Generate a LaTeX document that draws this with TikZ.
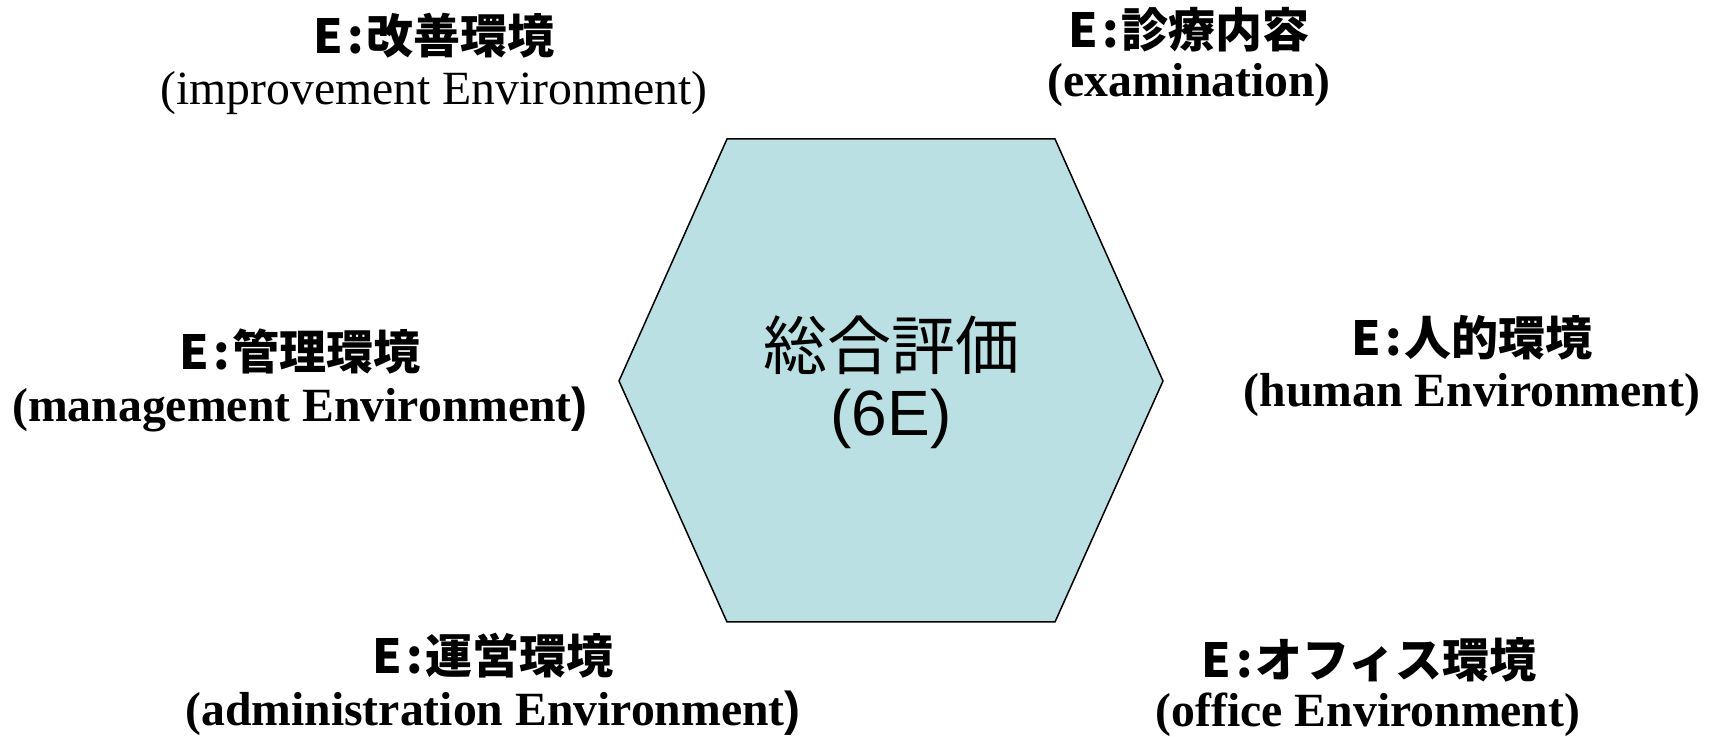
\documentclass[tikz,border=0pt]{standalone}
\usepackage{fontspec}
\setmainfont{Liberation Serif}
\newfontfamily\jp{Noto Sans CJK JP}
\newfontfamily\arialx{Liberation Sans}
\definecolor{hexfill}{RGB}{186,224,228}
\newcommand{\Ecol}{E\hspace{0.1em}:\hspace{0.05em}}
\tikzset{
  title/.style={font=\jp\bfseries\fontsize{23.5pt}{28pt}\selectfont, inner sep=0pt, anchor=center},
  subreg/.style={font=\fontsize{23.85pt}{28pt}\selectfont, inner sep=0pt, anchor=center},
  subbold/.style={font=\bfseries\fontsize{23.85pt}{28pt}\selectfont, inner sep=0pt, anchor=center},
  hex/.style={draw=black, fill=hexfill, line width=0.75pt, line join=miter},
  centertext/.style={font=\jp\fontsize{32pt}{37pt}\selectfont, inner sep=0pt, anchor=center}
}
\begin{document}
\begin{tikzpicture}[x=0.5pt,y=-0.5pt]
\useasboundingbox (0,0) rectangle (1715,737);
% hexagon
\coordinate (h1) at (727,139);
\coordinate (h2) at (1055,139);
\coordinate (h3) at (1163,381);
\coordinate (h4) at (1055,622);
\coordinate (h5) at (727,622);
\coordinate (h6) at (619,381);
\draw[hex] (h1) -- (h2) -- (h3) -- (h4) -- (h5) -- (h6) -- cycle;
\node[centertext] (c1) at (891,345) {総合評価};
\node[centertext, font=\arialx\fontsize{32pt}{37pt}\selectfont] (c2) at (891,419) {(6E)};
% labels
\node[title] (t1) at (434,36) {\Ecol 改善環境};
\node[subreg] (s1) at (434,93) {(improvement Environment)};
\node[title] (t2) at (1189,30) {\Ecol 診療内容};
\node[subbold] (s2) at (1189,85) {(examination)};
\node[title] (t3) at (300,352) {\Ecol 管理環境};
\node[subbold] (s3) at (300,409) {(management Environment{\arialx )}};
\node[title] (t4) at (1472,338) {\Ecol 人的環境};
\node[subbold] (s4) at (1472,395) {(human Environment)};
\node[title] (t5) at (493,656) {\Ecol 運営環境};
\node[subbold] (s5) at (493,713) {(administration Environment{\arialx )}};
\node[title] (t6) at (1369,660) {\Ecol オフィス環境};
\node[subbold] (s6) at (1368,715) {(office Environment)};
\end{tikzpicture}
\end{document}
